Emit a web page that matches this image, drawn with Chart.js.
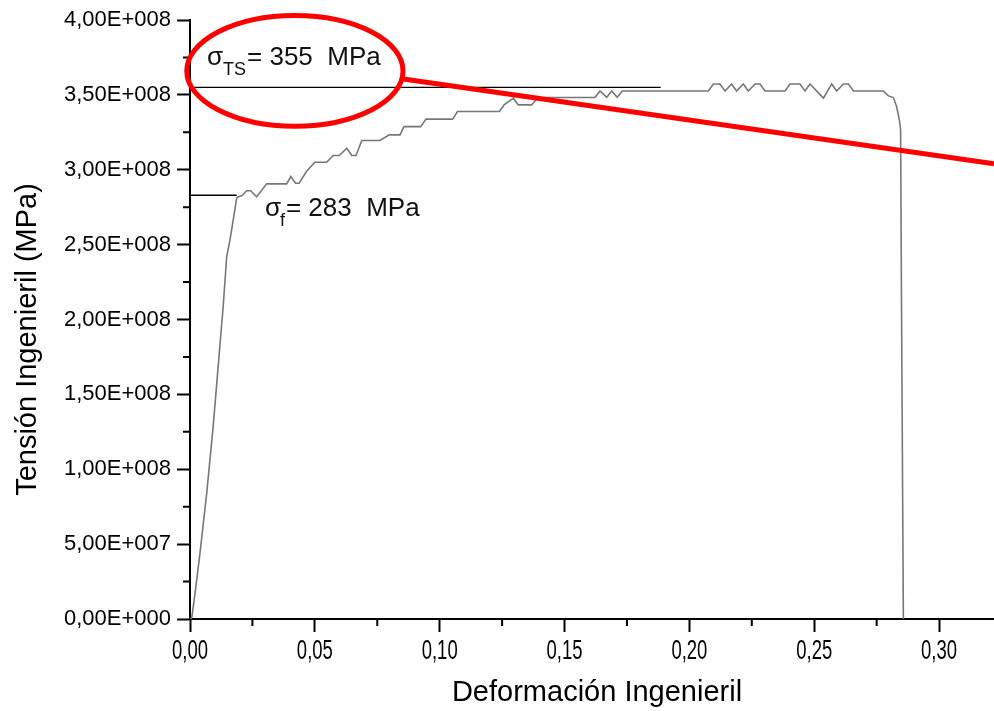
<!DOCTYPE html>
<html>
<head>
<meta charset="utf-8">
<script src="https://cdn.jsdelivr.net/npm/chart.js@4.4.1/dist/chart.umd.min.js"></script>
<style>
  body { margin: 0; background: #fff; }
  #wrap { width: 994px; height: 711px; }
</style>
</head>
<body>
<div id="wrap"><canvas id="tensile" width="994" height="711"></canvas></div>
<script>
// curva tensión-deformación (deformación, tensión en MPa)
const strain = [
  0, 0.0007, 0.002, 0.004, 0.0067, 0.0093, 0.0113, 0.0133, 0.0147, 0.016,
  0.0187, 0.0193, 0.0207, 0.0227, 0.0243, 0.0267, 0.0307, 0.0387, 0.0404, 0.0423,
  0.0437, 0.0467, 0.05, 0.0547, 0.0574, 0.0598, 0.0628, 0.0648, 0.0665, 0.0688,
  0.0761, 0.0798, 0.0841, 0.0857, 0.0924, 0.0945, 0.1052, 0.1071, 0.1239, 0.1258,
  0.1295, 0.1315, 0.1368, 0.1388, 0.1423, 0.1622, 0.1642, 0.1669, 0.1689, 0.1711,
  0.1731, 0.2076, 0.2096, 0.2122, 0.2143, 0.2169, 0.2189, 0.2216, 0.2236, 0.2263,
  0.2283, 0.2303, 0.2383, 0.2403, 0.2443, 0.2463, 0.2483, 0.2537, 0.2570, 0.2590,
  0.2617, 0.2637, 0.2657, 0.2777, 0.2797, 0.2817, 0.283, 0.2841, 0.2846, 0.2849,
  0.2853, 0.2857
];
const stressMPa = [
  0, 0.7, 17, 44, 84, 129, 169, 209, 242, 253,
  281, 282, 282.6, 286, 286, 282, 290.6, 290.6, 295.5, 291,
  291, 299, 305, 305, 309.5, 309.5, 314.4, 309.5, 309.5, 319.5,
  319.5, 323.3, 323.3, 328.8, 328.8, 333.8, 333.8, 338.9, 338.9, 343.3,
  347.8, 343.3, 343.3, 347.1, 348.2, 348.2, 352.6, 348.4, 352.6, 348.4,
  352.6, 352.6, 357.3, 357.3, 352.6, 357.3, 352.6, 357.3, 352.6, 357.3,
  357.3, 352.6, 352.6, 357.3, 357.3, 352.6, 357.3, 347.8, 357.3, 352.6,
  357.3, 357.3, 352.6, 352.6, 349.3, 348.2, 342.2, 333.3, 326.7, 226.5,
  113, 0
];

// líneas de referencia
const sigmaTS = 355;      // MPa
const sigmaTSEnd = 0.1885;
const sigmaF = 283;       // MPa
const sigmaFEnd = 0.0187;

// ejes
const xTickValues = [0, 0.05, 0.10, 0.15, 0.20, 0.25, 0.30];
const xMinorValues = [0.025, 0.075, 0.125, 0.175, 0.225, 0.275];
const yTickValues = [0, 0.5e8, 1e8, 1.5e8, 2e8, 2.5e8, 3e8, 3.5e8, 4e8];
const yMinorValues = [0.25e8, 0.75e8, 1.25e8, 1.75e8, 2.25e8, 2.75e8, 3.25e8, 3.75e8];
const xMax = 0.322;
const xTitle = 'Deformación Ingenieril';
const yTitle = 'Tensión Ingenieril (MPa)';

// marca roja (en coordenadas de datos)
const ellipseCenter = [0.042, 366];   // deformación, MPa
const ellipseRadius = [0.0433, 37];
const redLineStrain = [0.0841, 0.322];
const redLineStress = [361, 304];

function sciLabel(v) {
  if (v === 0) return '0,00E+000';
  const e = Math.floor(Math.log10(v) + 1e-9);
  const m = v / Math.pow(10, e);
  return m.toFixed(2).replace('.', ',') + 'E+' + String(e).padStart(3, '0');
}

const curve = strain.map((s, i) => ({ x: s, y: stressMPa[i] * 1e6 }));

const extras = {
  id: 'extras',
  afterDatasetsDraw(chart) {
    const ctx = chart.ctx;
    const xs = chart.scales.x, ys = chart.scales.y;
    const px = v => xs.getPixelForValue(v);
    const py = v => ys.getPixelForValue(v * 1e6);

    ctx.save();
    // ticks menores
    ctx.strokeStyle = '#000';
    ctx.lineWidth = 2;
    ctx.beginPath();
    yMinorValues.forEach(v => {
      const y = ys.getPixelForValue(v);
      ctx.moveTo(xs.left - 7, y);
      ctx.lineTo(xs.left, y);
    });
    xMinorValues.forEach(v => {
      const x = px(v);
      ctx.moveTo(x, ys.bottom);
      ctx.lineTo(x, ys.bottom + 7);
    });
    ctx.stroke();

    // etiquetas del eje x (letra estrecha)
    ctx.fillStyle = '#000';
    ctx.font = '28px "Liberation Sans", Arial, sans-serif';
    ctx.textAlign = 'center';
    ctx.textBaseline = 'alphabetic';
    xTickValues.forEach(v => {
      ctx.save();
      ctx.translate(px(v), ys.bottom + 40);
      ctx.scale(0.66, 1);
      ctx.fillText(v.toFixed(2).replace('.', ','), 0, 0);
      ctx.restore();
    });

    // títulos de ejes
    ctx.font = '29px "Liberation Sans", Arial, sans-serif';
    ctx.fillText(xTitle, (xs.left + xs.right) / 2 + 5, 701);
    ctx.save();
    ctx.translate(36, (ys.top + ys.bottom) / 2 + 20);
    ctx.rotate(-Math.PI / 2);
    ctx.fillText(yTitle, 0, 0);
    ctx.restore();

    // textos sigma
    ctx.textAlign = 'left';
    ctx.fillStyle = '#111';
    ctx.font = '26px "Liberation Sans", Arial, sans-serif';
    let x0 = px(0.0068), y0 = py(370);
    ctx.fillText('σ', x0, y0);
    let w = ctx.measureText('σ').width;
    ctx.font = '18px "Liberation Sans", Arial, sans-serif';
    ctx.fillText('TS', x0 + w, y0 + 10);
    let w2 = ctx.measureText('TS').width;
    ctx.font = '26px "Liberation Sans", Arial, sans-serif';
    ctx.fillText('= 355  MPa', x0 + w + w2 + 1, y0);

    x0 = px(0.030); y0 = py(269);
    ctx.fillText('σ', x0, y0);
    w = ctx.measureText('σ').width;
    ctx.font = '18px "Liberation Sans", Arial, sans-serif';
    ctx.fillText('f', x0 + w - 1, y0 + 10);
    w2 = ctx.measureText('f').width;
    ctx.font = '26px "Liberation Sans", Arial, sans-serif';
    ctx.fillText('= 283  MPa', x0 + w + w2, y0);

    // elipse y línea roja
    ctx.strokeStyle = '#ff0000';
    ctx.lineWidth = 5;
    const cx = px(ellipseCenter[0]), cy = py(ellipseCenter[1]);
    const rx = px(ellipseCenter[0] + ellipseRadius[0]) - cx;
    const ry = cy - py(ellipseCenter[1] + ellipseRadius[1]);
    ctx.beginPath();
    ctx.ellipse(cx, cy, rx, ry, 0, 0, Math.PI * 2);
    ctx.stroke();
    ctx.beginPath();
    ctx.moveTo(px(redLineStrain[0]), py(redLineStress[0]));
    ctx.lineTo(px(redLineStrain[1]), py(redLineStress[1]));
    ctx.stroke();
    ctx.restore();
  }
};

new Chart(document.getElementById('tensile'), {
  type: 'line',
  data: {
    datasets: [
      {
        data: curve,
        borderColor: '#777',
        borderWidth: 1.6,
        pointRadius: 0,
        tension: 0
      },
      {
        data: [{ x: 0, y: sigmaTS * 1e6 }, { x: sigmaTSEnd, y: sigmaTS * 1e6 }],
        borderColor: '#000',
        borderWidth: 1.4,
        pointRadius: 0
      },
      {
        data: [{ x: 0, y: sigmaF * 1e6 }, { x: sigmaFEnd, y: sigmaF * 1e6 }],
        borderColor: '#000',
        borderWidth: 1.4,
        pointRadius: 0
      }
    ]
  },
  options: {
    responsive: false,
    devicePixelRatio: 1,
    animation: false,
    layout: { padding: { top: 20, right: 0, left: 0, bottom: 0 } },
    plugins: { legend: { display: false }, tooltip: { enabled: false } },
    scales: {
      x: {
        type: 'linear',
        min: 0,
        max: xMax,
        afterBuildTicks: s => { s.ticks = xTickValues.map(v => ({ value: v })); },
        afterFit: s => { s.height = 92; },
        grid: { drawOnChartArea: false, drawTicks: true, tickLength: 13, tickColor: '#000', tickWidth: 2 },
        border: { display: true, color: '#000', width: 2 },
        ticks: { display: false }
      },
      y: {
        min: 0,
        max: 4e8,
        afterBuildTicks: s => { s.ticks = yTickValues.map(v => ({ value: v })); },
        afterFit: s => { s.width = 190; },
        grid: { drawOnChartArea: false, drawTicks: true, tickLength: 13, tickColor: '#000', tickWidth: 2 },
        border: { display: true, color: '#000', width: 2 },
        ticks: {
          color: '#000',
          padding: 6,
          font: { family: '"Liberation Sans", Arial', size: 22 },
          callback: v => sciLabel(v)
        }
      }
    }
  },
  plugins: [extras]
});
</script>
</body>
</html>
